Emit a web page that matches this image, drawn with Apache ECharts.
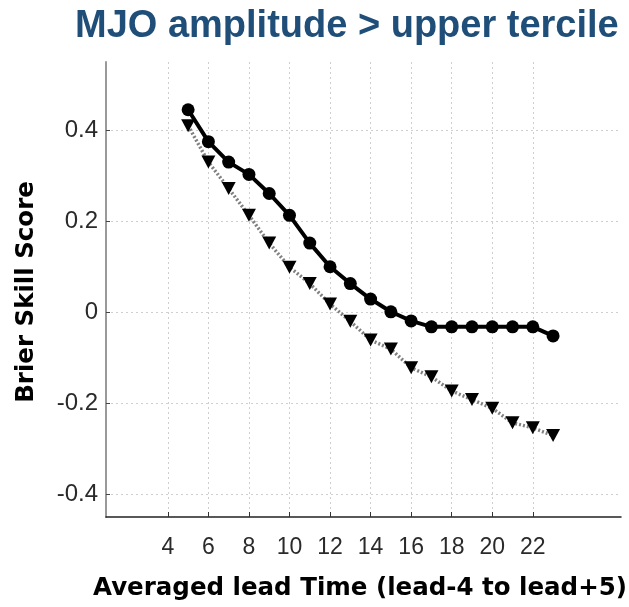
<!DOCTYPE html>
<html>
<head>
<meta charset="utf-8">
<script src="https://cdn.jsdelivr.net/npm/echarts@6/dist/echarts.min.js"></script>
<style>html,body{margin:0;padding:0;background:#fff}#c{width:629px;height:607px}</style>
</head>
<body>
<div id="c"></div>
<script>
const titleText = 'MJO amplitude > upper tercile';
const xTitle = 'Averaged lead Time (lead-4 to lead+5)';
const yTitle = 'Brier Skill Score';
const leadTimes = [5,6,7,8,9,10,11,12,13,14,15,16,17,18,19,20,21,22,23];
const bssSolid = [0.445,0.375,0.33,0.303,0.261,0.213,0.152,0.10,0.063,0.029,0.001,-0.019,-0.032,-0.032,-0.032,-0.032,-0.032,-0.032,-0.052];
const bssDotted = [0.41,0.33,0.272,0.213,0.152,0.099,0.063,0.018,-0.02,-0.061,-0.081,-0.122,-0.142,-0.173,-0.192,-0.211,-0.243,-0.254,-0.271];
const xTicks = [4,6,8,10,12,14,16,18,20,22];
const yTicks = [-0.4,-0.2,0,0.2,0.4];

const chart = echarts.init(document.getElementById('c'));
const gridStyle = {show:true, lineStyle:{color:'#cfcfcf', width:1, type:[2,3]}};
chart.setOption({
  animation:false,
  title:{text:titleText, left:75, top:8, padding:0,
    textStyle:{fontFamily:'Liberation Sans', fontWeight:'bold', fontSize:38, color:'#1f4e79'}},
  grid:{left:106, right:8, top:62, bottom:90, containLabel:false, outerBoundsMode:'none'},
  xAxis:{type:'value', min:0.95, max:26.35,
    axisLine:{show:true, onZero:false, lineStyle:{color:'#222', width:1.5}},
    axisTick:{show:true, inside:true, length:5, customValues:xTicks, lineStyle:{color:'#333'}},
    axisLabel:{customValues:xTicks, margin:19, fontFamily:'Liberation Sans', fontSize:23, color:'#2a2a2a'},
    splitLine:gridStyle},
  yAxis:{type:'value', min:-0.45, max:0.55,
    axisLine:{show:true, lineStyle:{color:'#999', width:2}},
    axisTick:{show:true, inside:true, length:4, customValues:yTicks, lineStyle:{color:'#444'}},
    axisLabel:{customValues:yTicks, margin:8, fontFamily:'Liberation Sans', fontSize:24, color:'#2a2a2a',
      formatter:v=>String(Math.round(v*10)/10)},
    splitLine:gridStyle},
  graphic:[
    {type:'text', x:360, y:589, style:{text:xTitle, font:'bold 24.5px "DejaVu Sans"', fill:'#000',
      textAlign:'center', textVerticalAlign:'middle', align:'center', verticalAlign:'middle'}},
    {type:'text', x:27, y:292, rotation:Math.PI/2, style:{text:yTitle, font:'bold 24.5px "DejaVu Sans"', fill:'#000',
      textAlign:'center', textVerticalAlign:'middle', align:'center', verticalAlign:'middle'}}
  ],
  series:[
    {type:'line', data:leadTimes.map((x,i)=>[x,bssDotted[i]]), symbol:'triangle', symbolRotate:180, symbolSize:[14,13],
      itemStyle:{color:'#000'}, lineStyle:{color:'#808080', width:3.5, type:[2,2]}, z:2},
    {type:'line', data:leadTimes.map((x,i)=>[x,bssSolid[i]]), symbol:'circle', symbolSize:13,
      itemStyle:{color:'#000'}, lineStyle:{color:'#000', width:4}, z:3}
  ]
});
</script>
</body>
</html>
